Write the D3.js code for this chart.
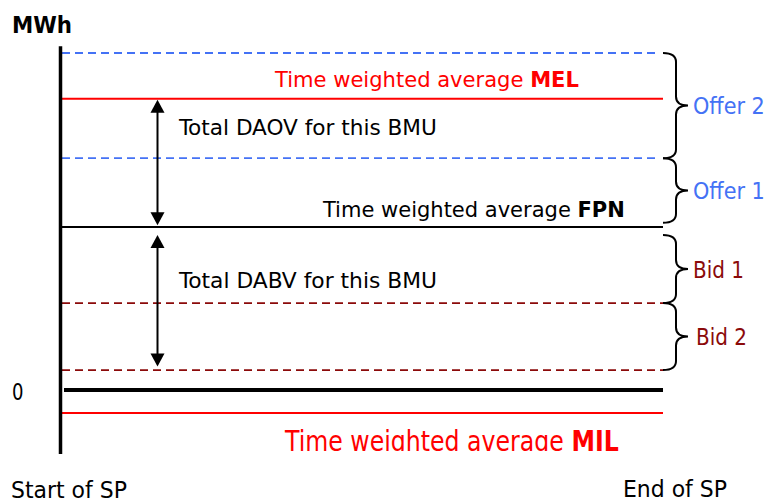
<!DOCTYPE html>
<html>
<head>
<meta charset="utf-8">
<script src="https://cdn.jsdelivr.net/npm/d3@7"></script>
<style>
  body { margin: 0; background: #fff; }
  svg { display: block; }
  text { font-family: "DejaVu Sans Condensed", "DejaVu Sans", Verdana, sans-serif; font-stretch: condensed; }
</style>
</head>
<body>
<svg id="chart" width="765" height="501"></svg>
<script>
// levels in MWh (arbitrary units, 0 = zero line)
const levelNames = ["Offer 2 top", "MEL", "Offer 1 top", "FPN", "Bid 1 bottom", "Bid 2 bottom", "Zero", "MIL"];
const levelValues = [100, 86.4, 68.8, 48.4, 25.8, 5.9, 0, -6.8];
const levelStyles = ["blue", "red", "blue", "black", "brown", "brown", "zero", "red"];

// bands shown with a brace on the right
const bandNames = ["Offer 2", "Offer 1", "Bid 1", "Bid 2"];
const bandFrom = [100, 68.8, 46.0, 25.8];
const bandTo = [68.8, 49.6, 25.8, 5.9];
const bandColors = ["#4472f5", "#4472f5", "#8b0a0a", "#8b0a0a"];

// double-headed arrows
const arrowNames = ["Total DAOV for this BMU", "Total DABV for this BMU"];
const arrowFrom = [86.1, 46.0];
const arrowTo = [48.9, 7.0];
const arrowLabelAt = [75.8, 30.2];

const svg = d3.select("#chart");

const x = d3.scaleLinear().domain([0, 1]).range([62, 663]);
const y = d3.scaleLinear().domain([0, 100]).range([390, 53]);

const colors = { blue: "#4472f5", red: "#ff0000", black: "#000", brown: "#8b0a0a", zero: "#000" };
const widths = { blue: 1.8, red: 2, black: 2, brown: 1.8, zero: 4 };

// horizontal levels
svg.selectAll(".level")
  .data(levelValues)
  .enter()
  .append("line")
    .attr("class", "level")
    .attr("x1", (d, i) => levelStyles[i] === "zero" ? x(0) + 2 : x(0))
    .attr("x2", (d, i) => levelStyles[i] === "blue" ? x(1) - 3 : x(1))
    .attr("y1", d => y(d))
    .attr("y2", d => y(d))
    .attr("stroke", (d, i) => colors[levelStyles[i]])
    .attr("stroke-width", (d, i) => widths[levelStyles[i]])
    .attr("stroke-dasharray", (d, i) => (levelStyles[i] === "blue" || levelStyles[i] === "brown") ? "8,5" : null);

// vertical axis
svg.append("line")
  .attr("x1", x(0) - 1.5).attr("x2", x(0) - 1.5)
  .attr("y1", y(102)).attr("y2", y(-19))
  .attr("stroke", "#000")
  .attr("stroke-width", 3.5);

// text helper: fits a label to a width (or a given size) and cap height
const capRatio = 0.729;
function label(parent, tx, ty, parts, color, opts) {
  const g = parent.append("g");
  const t = g.append("text").attr("font-size", 20).attr("fill", color);
  parts.forEach(p => {
    const s = t.append("tspan").text(p[0]);
    if (p[1]) s.attr("font-weight", "bold");
  });
  let fs = opts.size || 20;
  if (opts.width) fs = 20 * opts.width / t.node().getComputedTextLength();
  t.attr("font-size", fs);
  const sy = opts.cap ? opts.cap / (capRatio * fs) : 1;
  g.attr("transform", `translate(${tx},${ty}) scale(1,${sy})`);
  if (opts.measureOnly) g.remove();
  return fs;
}

label(svg, 12, 32.5, [["MWh", true]], "#000", { width: 60, cap: 17 });
label(svg, 12, 400, [["0"]], "#000", { width: 11.5, cap: 17 });
label(svg, 11, 497.5, [["Start of SP"]], "#000", { width: 116, cap: 17 });
label(svg, 623, 496.5, [["End of SP"]], "#000", { width: 104, cap: 17 });

label(svg, 275, 87, [["Time weighted average "], ["MEL", true]], "#ff0000", { width: 304, cap: 16 });
label(svg, 323, 216.5, [["Time weighted average "], ["FPN", true]], "#000", { width: 302, cap: 15.5 });

// MIL label, stretched and clipped at the bottom
svg.append("clipPath").attr("id", "milclip")
  .append("rect").attr("x", 0).attr("y", 0).attr("width", 765).attr("height", 451);
const milG = svg.append("g").attr("clip-path", "url(#milclip)");
label(milG, 285, 451, [["Time weighted average "], ["MIL", true]], "#ff0000", { width: 334, cap: 21 });

// arrows
const ax = 157.5;
const head = 13, half = 7;
arrowNames.forEach((name, i) => {
  const top = y(arrowFrom[i]), bot = y(arrowTo[i]);
  svg.append("line")
    .attr("x1", ax).attr("x2", ax)
    .attr("y1", top + head - 1).attr("y2", bot - head + 1)
    .attr("stroke", "#000").attr("stroke-width", 2);
  svg.append("path")
    .attr("d", `M${ax},${top} L${ax - half},${top + head} L${ax + half},${top + head} Z`)
    .attr("fill", "#000");
  svg.append("path")
    .attr("d", `M${ax},${bot} L${ax - half},${bot - head} L${ax + half},${bot - head} Z`)
    .attr("fill", "#000");
  label(svg, 179, y(arrowLabelAt[i]), [[name]], "#000", { width: 258, cap: 16 });
});

// braces
const bx0 = 663, bxm = 676, bxt = 688, r = 9;
const bidSize = label(svg, 0, 0, [["Bid 1"]], "#000", { width: 51, measureOnly: true });
bandNames.forEach((name, i) => {
  const y0 = y(bandFrom[i]), y1 = y(bandTo[i]), ym = (y0 + y1) / 2;
  const p = d3.path();
  p.moveTo(bx0, y0);
  p.quadraticCurveTo(bxm, y0, bxm, y0 + r);
  p.lineTo(bxm, ym - r);
  p.quadraticCurveTo(bxm, ym, bxt, ym);
  p.quadraticCurveTo(bxm, ym, bxm, ym + r);
  p.lineTo(bxm, y1 - r);
  p.quadraticCurveTo(bxm, y1, bx0, y1);
  svg.append("path")
    .attr("d", p.toString())
    .attr("fill", "none")
    .attr("stroke", "#000")
    .attr("stroke-width", 2);
  const isBid = name.startsWith("Bid");
  label(svg, name === "Bid 2" ? 696 : 693, ym + 8.5, [[name]], bandColors[i],
    { size: isBid ? bidSize : bidSize * 1.04, cap: 17 });
});
</script>
</body>
</html>
